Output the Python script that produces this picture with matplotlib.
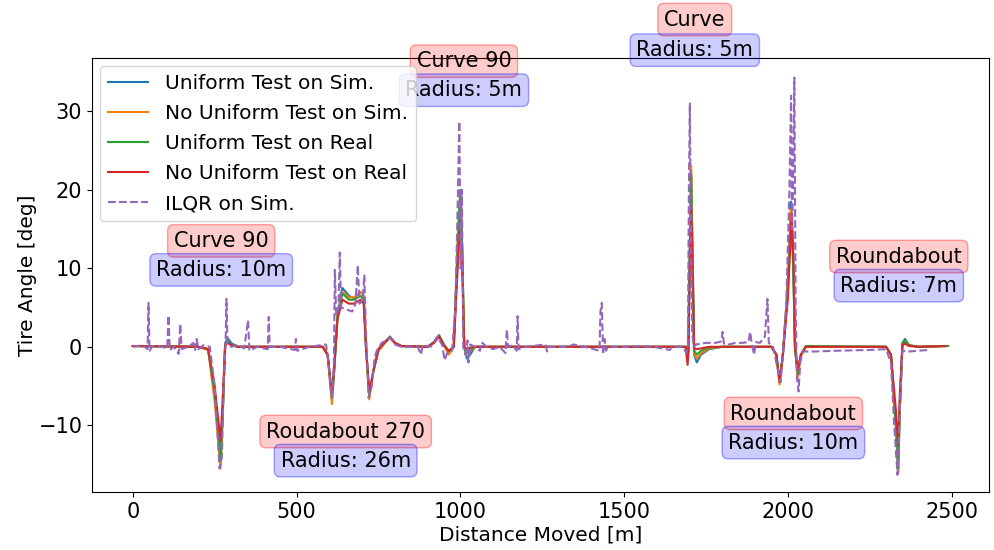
import matplotlib.pyplot as plt

# Tire angle traces as (distance [m], angle [deg]) breakpoints
uni_sim_x = [0, 200, 230, 250, 268, 275, 282, 290, 300, 320, 580, 595, 608, 615, 625, 640, 660, 675, 695, 705,
             712, 722, 735, 750, 770, 785, 800, 820, 900, 920, 935, 950, 965, 980, 992, 1000, 1006, 1012, 1020,
             1030, 1045, 1690, 1696, 1700, 1705, 1710, 1714, 1722, 1735, 1760, 1800, 1950, 1965, 1975, 1985,
             2000, 2010, 2016, 2022, 2030, 2040, 2055, 2300, 2315, 2330, 2337, 2342, 2350, 2358, 2370, 2400, 2482]
uni_sim_y = [0.1, 0, -0.3, -6, -15, -8, 0.5, 1.1, 0.5, 0, 0, -1, -6.8, -3, 4, 7.5, 6.5, 6.2, 7, 6.5,
             0, -6.3, -3, -0.5, 0.5, 1.3, 0.5, 0.1, 0, 0.6, 1.5, 0.3, -0.8, 0, 12, 19.5, 12, 0, -1.5,
             -1, 0, 0, -0.5, 10, 22, 10, -1, -2, -1, -0.3, 0, 0, -1, -4.5, -1,
             8, 18.5, 12, 0, -3.5, -1, 0, 0, -1, -10, -16, -8, 0.5, 1, 0.2, 0, 0.1]

nouni_sim_x = [0, 200, 230, 250, 268, 275, 282, 290, 300, 320, 580, 595, 608, 615, 625, 640, 660, 675, 695, 705,
               712, 722, 735, 750, 770, 785, 800, 820, 900, 920, 935, 950, 965, 980, 992, 1000, 1006, 1012, 1020,
               1030, 1045, 1690, 1696, 1700, 1705, 1710, 1714, 1722, 1735, 1760, 1800, 1950, 1965, 1975, 1985,
               2000, 2010, 2016, 2022, 2030, 2040, 2055, 2300, 2315, 2330, 2337, 2342, 2350, 2358, 2370, 2400, 2482]
nouni_sim_y = [0.1, 0, -0.4, -7, -15.5, -8, 0.3, 0.6, 0.3, 0, 0, -1.2, -7.3, -3, 4, 7, 6.3, 6.3, 7, 6.5,
               0, -6.7, -3, -0.5, 0.5, 1.2, 0.5, 0.1, 0, 0.6, 1.4, 0.2, -1, 0, 13, 20, 12, 0, -1,
               -0.6, 0, 0, -0.5, 11, 23, 10, -0.8, -1.5, -0.8, -0.2, 0, 0, -1, -4.8, -1,
               8, 17.5, 12, 0, -4, -1.2, 0, 0, -1, -10, -16, -8, 0.3, 0.7, 0.2, 0, 0.1]

uni_real_x = [0, 200, 230, 250, 268, 275, 282, 290, 300, 320, 580, 595, 608, 615, 625, 640, 660, 675, 695, 705,
              712, 722, 735, 750, 770, 785, 800, 820, 900, 920, 935, 950, 965, 980, 992, 1000, 1006, 1012, 1020,
              1030, 1045, 1690, 1696, 1700, 1705, 1710, 1714, 1722, 1735, 1760, 1800, 1950, 1965, 1975, 1985,
              2000, 2010, 2016, 2022, 2030, 2040, 2055, 2300, 2315, 2330, 2337, 2342, 2350, 2358, 2370, 2400, 2490]
uni_real_y = [0.1, 0, -0.3, -6, -14.5, -8, 0.3, 0.8, 0.3, 0, 0, -1, -6.5, -3, 4, 6.8, 6, 6, 6.5, 6,
              0, -6, -3, -0.3, 0.6, 1.3, 0.5, 0.1, 0, 0.6, 1.4, 0.2, -0.6, 0, 13, 20, 12, 0, -0.8,
              -0.4, 0, 0, -0.6, 10, 22, 9, -0.5, -1, -0.5, -0.1, 0, 0, -1, -4.3, -1,
              7, 16, 11, 0, -3.5, -1, 0.1, 0, -1, -10, -15.5, -8, 0.4, 0.8, 0.2, 0, 0.1]

nouni_real_x = [0, 200, 230, 250, 268, 275, 282, 290, 300, 320, 580, 595, 608, 615, 625, 640, 660, 675, 695, 705,
                712, 722, 735, 750, 770, 785, 800, 820, 900, 920, 935, 950, 965, 980, 992, 1000, 1006, 1012, 1020,
                1030, 1045, 1688, 1694, 1697, 1700, 1705, 1710, 1714, 1722, 1735, 1760, 1800, 1950, 1965, 1975,
                1985, 2000, 2012, 2018, 2022, 2030, 2040, 2055, 2300, 2315, 2330, 2337, 2342, 2350, 2358, 2370,
                2400, 2482]
nouni_real_y = [0.1, 0, -0.3, -5, -12, -6, 0.2, 0.5, 0.2, 0, 0, -1, -6, -2.5, 3.5, 6, 5.5, 5.5, 6, 5.5,
                0, -5.8, -3, -0.3, 0.6, 1.2, 0.5, 0.1, 0, 0.5, 1.3, 0.2, -0.5, 0, 10, 16, 10, 0, -0.3,
                -0.1, 0, 0, -2.3, -0.5, 8, 18, 8, -0.2, -0.3, -0.2, 0, 0, 0, -1, -4.5,
                -1, 6, 17, 10, 0, -3, -1, 0, 0, -1, -8, -12.5, -6, 0.2, 0.4, 0.1, 0, 0.1]

ilqr_x = [0, 30, 45, 48, 51, 60, 90, 105, 109, 113, 125, 140, 145, 149, 170, 185, 190, 195, 200, 215, 235, 250,
          265, 272, 278, 283, 286, 289, 300, 320, 340, 352, 356, 380, 412, 415, 418, 450, 495, 498, 502, 540, 590,
          600, 608, 614, 617, 621, 628, 632, 636, 650, 670, 680, 687, 692, 702, 707, 711, 720, 730, 738, 745, 760,
          775, 785, 800, 820, 870, 880, 885, 910, 930, 945, 952, 960, 975, 985, 993, 997, 1001, 1005, 1009, 1015,
          1022, 1025, 1030, 1045, 1060, 1065, 1080, 1100, 1120, 1138, 1142, 1146, 1160, 1172, 1175, 1178, 1200,
          1260, 1265, 1270, 1330, 1345, 1380, 1425, 1428, 1432, 1436, 1440, 1445, 1450, 1500, 1560, 1590, 1640,
          1645, 1680, 1690, 1695, 1698, 1701, 1704, 1708, 1712, 1720, 1750, 1780, 1797, 1801, 1805, 1820, 1840,
          1860, 1880, 1885, 1890, 1897, 1903, 1915, 1930, 1938, 1942, 1955, 1970, 1978, 1985, 1995, 2005, 2010,
          2013, 2016, 2020, 2024, 2028, 2033, 2038, 2045, 2080, 2150, 2250, 2300, 2315, 2325, 2335, 2342, 2350,
          2370, 2400, 2430]
ilqr_y = [0, 0.2, -0.3, 5.6, -0.5, 0.1, 0, -0.2, 4.0, -0.4, 0, -0.9, 2.9, -0.3, 0, 0.5, -0.4, 1.0, -0.3, 0.2, 0, -5,
          -15.5, -14, -4, 0, 6.1, 0.5, 0, 0.2, -0.2, 3.4, -0.5, 0, -0.3, 3.8, 0, 0, -0.4, 1.0, -0.5, 0, 0.3,
          -3, -6.5, -2, 9.8, 4, 5, 12, 5, 4.8, 4.5, 5.5, 10.4, 5.5, 6, 9.2, 3, -6.5, -5, -1.5, -0.5, 0.5,
          0.8, 1.2, 0.3, 0, 0, -1, 0.2, 0, 1.3, 0.2, -1.7, -0.8, -0.5, 5, 20, 28.7, 10, 20, 0, -1,
          0.8, -2, 0.3, 0, -0.5, 0.6, 0, -0.3, 0, -0.8, 2.2, 0, 0.2, -0.5, 3.9, -0.3, 0,
          0.3, -0.6, 0, 0, 0.3, 0, -0.5, 4.5, 5.6, -1, 1, -0.5, 0, 0, 0.1, 0, -0.4,
          0, 0, -0.8, 0, 20, 31, 15, 2, 0, 0.3, 0.5, 0.5, 0.7, 1.9, 0.4, 0.3, 0.5,
          0.5, 0.6, 1.9, 0.4, -1, 0.6, 0.5, 1.3, 6.1, 0.5, 0, -3, -4.5, -1, 5, 20, 32,
          15, 20, 34.3, 5, -4, -5.7, -2, -0.6, -0.6, -0.5, -0.4, -0.3, -2, -10, -16.3, -8, -0.5,
          -0.6, -0.5, -0.4]

# Manoeuvre annotations: (distance, angle, text, box colour)
note_x = [270, 270, 650, 650, 1011, 1011, 1716, 1716, 2339, 2339, 2017, 2017]
note_y = [13.5, 9.8, -10.8, -14.5, 36.4, 32.7, 41.7, 37.8, 11.5, 7.8, -8.5, -12.2]
note_text = ['Curve 90', 'Radius: 10m', 'Roudabout 270', 'Radius: 26m', 'Curve 90', 'Radius: 5m',
             'Curve', 'Radius: 5m', 'Roundabout', 'Radius: 7m', 'Roundabout', 'Radius: 10m']
note_color = [(1, 0, 0), (0, 0, 1)] * 6

fig = plt.figure(figsize=(9.95, 5.5), dpi=100)
ax = fig.add_axes([0.0925, 0.1055, 0.9015, 0.789])

ax.plot(uni_sim_x, uni_sim_y, color='tab:blue', lw=1.5, label='Uniform Test on Sim.')
ax.plot(nouni_sim_x, nouni_sim_y, color='tab:orange', lw=1.5, label='No Uniform Test on Sim.')
ax.plot(uni_real_x, uni_real_y, color='tab:green', lw=1.5, label='Uniform Test on Real')
ax.plot(nouni_real_x, nouni_real_y, color='tab:red', lw=1.5, label='No Uniform Test on Real')
ax.plot(ilqr_x, ilqr_y, color='tab:purple', lw=1.5, ls='--', label='ILQR on Sim.')

for x, y, t, c in zip(note_x, note_y, note_text, note_color):
    ax.text(x, y, t, fontsize=15, ha='center', va='center', clip_on=False,
            bbox=dict(boxstyle='round', facecolor=(*c, 0.2), edgecolor=(*c, 0.35), linewidth=1))

ax.set_xlim(-124.5, 2614.5)
ax.set_ylim(-18.5, 36.8)
ax.set_xticks([0, 500, 1000, 1500, 2000, 2500])
ax.set_yticks([-10, 0, 10, 20, 30])
ax.tick_params(labelsize=15)
ax.set_xlabel('Distance Moved [m]', fontsize=14.5, labelpad=3)
ax.set_ylabel('Tire Angle [deg]', fontsize=14.5, labelpad=1)
ax.legend(loc='upper left', fontsize=14.5, handlelength=2, borderaxespad=0.4, labelspacing=0.55)

fig.savefig('out.png', dpi=100)
